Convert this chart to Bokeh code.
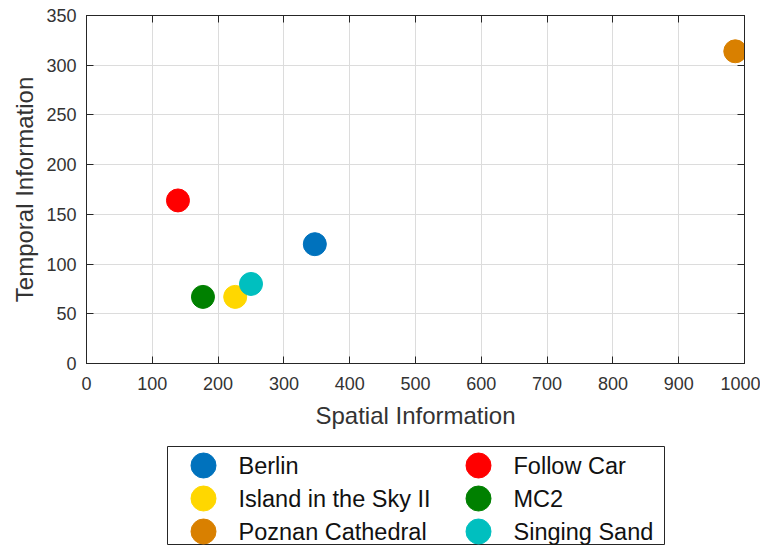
from bokeh.plotting import figure
from bokeh.models import Range1d, FixedTicker, LinearAxis, ColumnDataSource, Spacer
from bokeh.layouts import column, row
from bokeh.embed import file_html
from bokeh.resources import INLINE
from bokeh.core.properties import value

# ---------------- data ----------------
names = ["Berlin", "Follow Car", "Island in the Sky II", "MC2", "Poznan Cathedral", "Singing Sand"]
spatial = [347, 139, 226, 177, 986, 250]
temporal = [120, 164, 67, 67, 314, 80]
colors = ["#0072BD", "#FF0000", "#FFD700", "#008000", "#D98000", "#00BFBF"]
x_ticks = [0, 100, 200, 300, 400, 500, 600, 700, 800, 900, 1000]
y_ticks = [0, 50, 100, 150, 200, 250, 300, 350]

FONT = "Liberation Sans"
AX = "#262626"
TXT = "#333333"

# ---------------- main plot ----------------
p = figure(width=760, height=445,
           x_range=Range1d(0, 1000), y_range=Range1d(0, 350),
           output_backend="svg", toolbar_location=None,
           min_border_left=86, min_border_right=16,
           min_border_top=15, min_border_bottom=82,
           x_axis_label="Spatial Information",
           y_axis_label="Temporal Information")
p.outline_line_color = AX
p.background_fill_color = "white"
p.border_fill_color = "white"

src = ColumnDataSource(dict(x=spatial, y=temporal, c=colors, n=names))
p.scatter("x", "y", source=src, size=23, fill_color="c", line_color="c")

for ax, ticks in ((p.xaxis[0], x_ticks), (p.yaxis[0], y_ticks)):
    ax.ticker = FixedTicker(ticks=ticks)
    ax.major_tick_in = 7
    ax.major_tick_out = 0
    ax.minor_tick_line_color = None
    ax.axis_line_color = AX
    ax.major_tick_line_color = AX
    ax.major_label_text_font = FONT
    ax.major_label_text_font_size = "18px"
    ax.major_label_text_color = TXT
    ax.axis_label_text_font = FONT
    ax.axis_label_text_font_size = "24px"
    ax.axis_label_text_font_style = "normal"
    ax.axis_label_text_color = TXT

p.xaxis[0].major_label_standoff = 13
p.xaxis[0].axis_label_standoff = 9
p.yaxis[0].major_label_standoff = 10
p.yaxis[0].axis_label_standoff = 5

p.xgrid.ticker = FixedTicker(ticks=x_ticks)
p.ygrid.ticker = FixedTicker(ticks=y_ticks)
p.grid.grid_line_color = "#dcdcdc"
p.grid.grid_line_width = 1

for side, ticks in (("above", x_ticks), ("right", y_ticks)):
    extra = LinearAxis(ticker=FixedTicker(ticks=ticks),
                       major_tick_in=7, major_tick_out=0,
                       minor_tick_line_color=None,
                       axis_line_color=AX, major_tick_line_color=AX,
                       major_label_text_font_size="1px",
                       major_label_text_color=None,
                       major_label_standoff=0)
    p.add_layout(extra, side)

# ---------------- legend (separate panel) ----------------
lw, lh = 499, 100
leg = figure(width=lw, height=lh, x_range=Range1d(0, 497), y_range=Range1d(99, 0),
             output_backend="svg", toolbar_location=None,
             x_axis_type=None, y_axis_type=None,
             min_border_left=1, min_border_right=1, min_border_top=1, min_border_bottom=0)
leg.grid.visible = False
leg.outline_line_color = AX
leg.outline_line_width = 1

col_x = [36, 311]
label_x = [71, 346]
row_y = [19, 52, 85]
gx = [col_x[i % 2] for i in range(len(names))]
tx = [label_x[i % 2] for i in range(len(names))]
gy = [row_y[i // 2] for i in range(len(names))]

lsrc = ColumnDataSource(dict(gx=gx, tx=tx, gy=gy, c=colors, n=names))
leg.scatter("gx", "gy", source=lsrc, size=25, fill_color="c", line_color="c")
leg.text("tx", "gy", text="n", source=lsrc, text_font=value(FONT),
         text_font_size="23.5px", text_baseline="middle", text_align="left",
         text_color="#111111")

layout = column(p, row(Spacer(width=166, height=lh), leg))

open("out.html", "w").write(file_html(layout, INLINE))
